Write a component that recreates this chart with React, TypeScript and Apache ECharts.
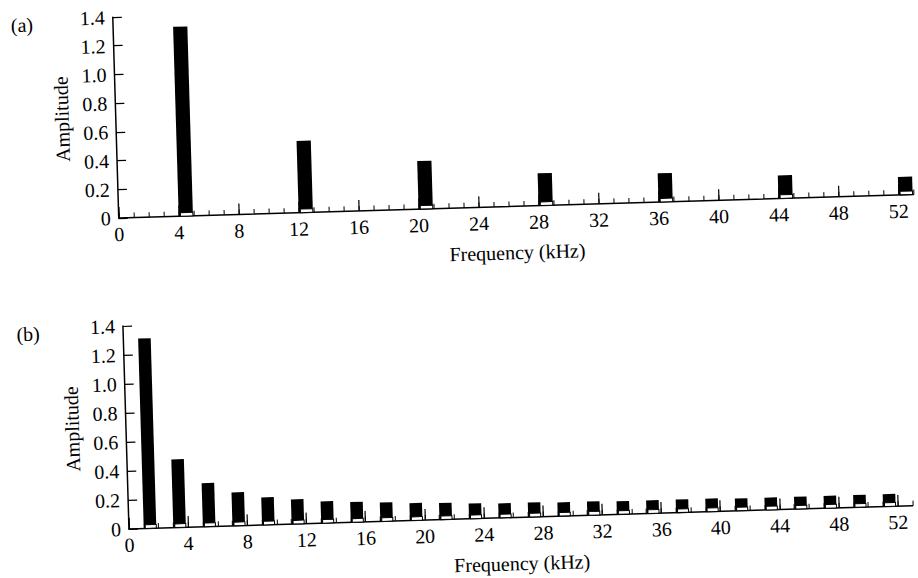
import React, { useEffect, useRef } from 'react';
import * as echarts from 'echarts';

// Panel (a): spectrum lines at odd harmonics of 4 kHz
const freqA = [4, 12, 20, 28, 36, 44, 52];
const ampA = [1.32, 0.5, 0.335, 0.225, 0.2, 0.16, 0.125];

// Panel (b): spectrum lines at odd multiples of 1 kHz
const freqB = [1, 3, 5, 7, 9, 11, 13, 15, 17, 19, 21, 23, 25, 27, 29, 31, 33, 35, 37, 39, 41, 43, 45, 47, 49, 51];
const ampB = [1.31, 0.47, 0.3, 0.23, 0.19, 0.17, 0.15, 0.14, 0.13, 0.12, 0.115, 0.105, 0.1, 0.1, 0.095, 0.095, 0.09, 0.09, 0.09, 0.09, 0.085, 0.085, 0.085, 0.085, 0.085, 0.085];

const xTickValues = [0, 4, 8, 12, 16, 20, 24, 28, 32, 36, 40, 44, 48, 52];
const panelTitles = ['(a)', '(b)'];
const xName = 'Frequency (kHz)';
const yName = 'Amplitude';

const FONT = '"Liberation Serif", "DejaVu Serif", "Times New Roman", serif';
const FS = 20;
const INK = '#000';

function barRenderer(width: number, boxH: number) {
  return (params: any, api: any) => {
    const f = api.value(0);
    const a = api.value(1);
    const top = api.coord([f, a]);
    const bot = api.coord([f + width, 0]);
    const boxTop = api.coord([f + width * 0.12, boxH]);
    return {
      type: 'group',
      children: [
        {
          type: 'rect',
          shape: { x: top[0], y: top[1], width: bot[0] - top[0], height: bot[1] - top[1] },
          style: { fill: INK },
        },
        {
          type: 'rect',
          shape: { x: boxTop[0], y: boxTop[1], width: bot[0] - boxTop[0], height: bot[1] - boxTop[1] },
          style: { fill: '#fff', stroke: INK, lineWidth: 1 },
        },
      ],
    };
  };
}

export default function App() {
  const ref = useRef<HTMLDivElement>(null);

  useEffect(() => {
    if (!ref.current) return;
    const chart = echarts.init(ref.current, undefined, { renderer: 'svg' });

    const grids = [
      { left: 121, top: 7, width: 795, height: 201 },
      { left: 122, top: 316, width: 784, height: 203 },
    ];

    const mainX = (gi: number) => ({
      type: 'value',
      gridIndex: gi,
      min: 0,
      max: 53,
      interval: 4,
      name: xName,
      nameLocation: 'middle',
      nameGap: 36,
      nameTextStyle: { fontFamily: FONT, fontSize: FS, color: INK },
      axisLine: { show: true, onZero: false, lineStyle: { color: INK, width: 1.5 } },
      axisTick: { show: true, inside: true, length: 11, customValues: xTickValues, lineStyle: { color: INK, width: 1.2 } },
      axisLabel: {
        show: true,
        customValues: xTickValues,
        margin: 6,
        fontFamily: FONT,
        fontSize: FS,
        lineHeight: FS,
        color: INK,
      },
      splitLine: { show: false },
    });

    const minorX = (gi: number) => ({
      type: 'value',
      gridIndex: gi,
      min: 0,
      max: 53,
      interval: 1,
      axisLine: { show: false },
      axisTick: { show: true, inside: true, length: 5, lineStyle: { color: INK, width: 1 } },
      axisLabel: { show: false },
      splitLine: { show: false },
    });

    const mainY = (gi: number) => ({
      type: 'value',
      gridIndex: gi,
      min: 0,
      max: 1.4,
      interval: 0.2,
      name: yName,
      nameLocation: 'middle',
      nameGap: 44,
      nameTextStyle: { fontFamily: FONT, fontSize: FS, color: INK },
      axisLine: { show: true, lineStyle: { color: INK, width: 1.5 } },
      axisTick: { show: true, inside: true, length: 9, lineStyle: { color: INK, width: 1.2 } },
      axisLabel: {
        margin: 8,
        fontFamily: FONT,
        fontSize: FS,
        color: INK,
        formatter: (v: number) => (v === 0 ? '0' : v.toFixed(1)),
      },
      splitLine: { show: false },
    });

    const hiddenY = (gi: number) => ({ type: 'value', gridIndex: gi, min: 0, max: 1.4, show: false });

    const option: any = {
      animation: false,
      backgroundColor: '#fff',
      grid: [
        { ...grids[0], outerBoundsMode: 'none' },
        { ...grids[1], outerBoundsMode: 'none' },
        { ...grids[0], outerBoundsMode: 'none' },
        { ...grids[1], outerBoundsMode: 'none' },
      ],
      xAxis: [mainX(0), mainX(1), minorX(2), minorX(3)],
      yAxis: [mainY(0), mainY(1), hiddenY(2), hiddenY(3)],
      graphic: [
        {
          type: 'text',
          x: 30,
          y: 12,
          style: { text: panelTitles[0], font: `${FS}px ${FONT}`, fill: INK, align: 'center', verticalAlign: 'middle' },
        },
        {
          type: 'text',
          x: 27,
          y: 321,
          style: { text: panelTitles[1], font: `${FS}px ${FONT}`, fill: INK, align: 'center', verticalAlign: 'middle' },
        },
      ],
      series: [
        {
          type: 'custom',
          xAxisIndex: 0,
          yAxisIndex: 0,
          z: 5,
          renderItem: barRenderer(0.95, 0.025),
          data: freqA.map((f, i) => [f, ampA[i]]),
        },
        {
          type: 'custom',
          xAxisIndex: 1,
          yAxisIndex: 1,
          z: 5,
          renderItem: barRenderer(0.85, 0.025),
          data: freqB.map((f, i) => [f, ampB[i]]),
        },
      ],
    };

    chart.setOption(option);
    return () => chart.dispose();
  }, []);

  return (
    <div style={{ position: 'fixed', left: 0, top: 0, width: 918, height: 578, overflow: 'hidden', background: '#fff' }}>
      <div
        ref={ref}
        style={{
          width: 918,
          height: 578,
          transform: 'rotate(-1.7deg)',
          transformOrigin: '459px 289px',
        }}
      />
    </div>
  );
}
